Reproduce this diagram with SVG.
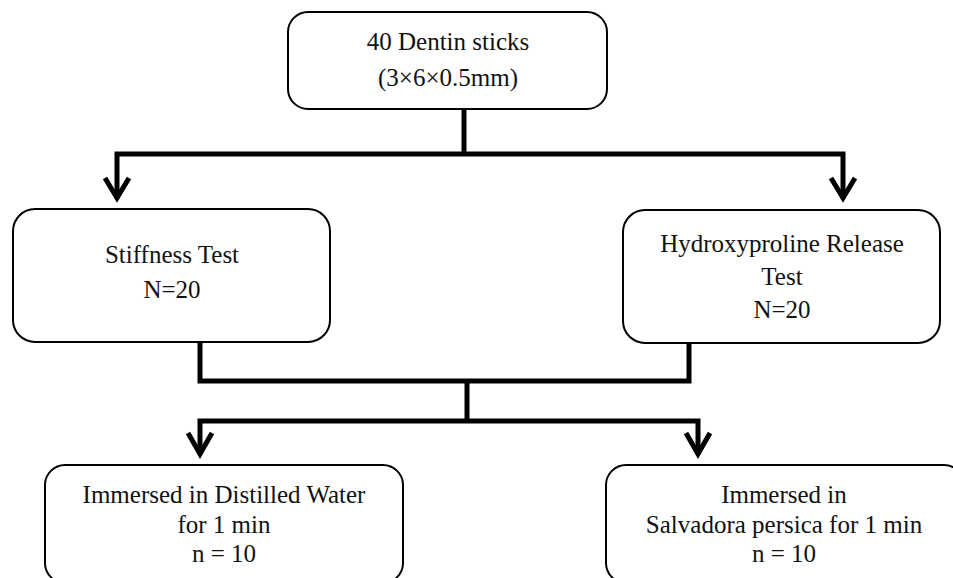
<svg xmlns="http://www.w3.org/2000/svg" width="953" height="578" viewBox="0 0 953 578">
<style>
.box{fill:#fff;stroke:#000;stroke-width:2}
.t{font-family:"Liberation Serif","Times New Roman",serif;font-size:25px;fill:#111;text-anchor:middle}
.c{fill:none;stroke:#000;stroke-width:5;stroke-linecap:square;stroke-linejoin:miter}
.ah{fill:none;stroke:#000;stroke-width:5;stroke-linecap:butt;stroke-linejoin:miter}
</style>
<rect width="953" height="578" fill="#fff"/>
<g id="connectors">
<path class="c" d="M464 110 V154 M117 154 H843 M117 154 V196 M843 154 V196"/>
<polyline class="ah" points="105,178 117,198 129,178"/>
<polyline class="ah" points="831,178 843,198 855,178"/>
<path class="c" d="M200 345 V381 H689 V345 M467 381 V421 M200 421 H698 M200 421 V452 M698 421 V452"/>
<polyline class="ah" points="188,433 200,454 212,433"/>
<polyline class="ah" points="686,433 698,454 710,433"/>
</g>
<g id="node-dentin">
<rect class="box" x="288" y="12" width="319" height="97" rx="20"/>
<text class="t" x="448" y="50">40 Dentin sticks</text>
<text class="t" x="448" y="86">(3×6×0.5mm)</text>
</g>
<g id="node-stiffness">
<rect class="box" x="13" y="209" width="317" height="133" rx="22"/>
<text class="t" x="172" y="263">Stiffness Test</text>
<text class="t" x="172" y="298">N=20</text>
</g>
<g id="node-hydroxyproline">
<rect class="box" x="623" y="210" width="317" height="133" rx="22"/>
<text class="t" x="782" y="252">Hydroxyproline Release</text>
<text class="t" x="782" y="285">Test</text>
<text class="t" x="782" y="318">N=20</text>
</g>
<g id="node-water">
<rect class="box" x="45" y="465" width="358" height="118" rx="20"/>
<text class="t" x="224" y="503">Immersed in Distilled Water</text>
<text class="t" x="224" y="533">for 1 min</text>
<text class="t" x="224" y="562">n = 10</text>
</g>
<g id="node-salvadora">
<rect class="box" x="606" y="465" width="358" height="118" rx="20"/>
<text class="t" x="784" y="503">Immersed in</text>
<text class="t" x="784" y="533">Salvadora persica for 1 min</text>
<text class="t" x="784" y="562">n = 10</text>
</g>
</svg>
